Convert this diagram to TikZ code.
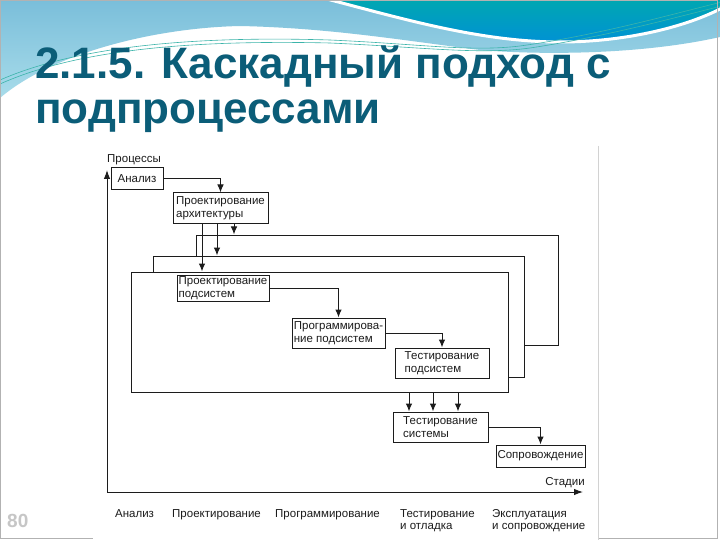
\documentclass[tikz,border=0pt]{standalone}
\usepackage{fontspec}
\setmainfont{Liberation Sans}
\usetikzlibrary{positioning}
\usetikzlibrary{arrows.meta}
\definecolor{titleteal}{RGB}{11,93,120}
\definecolor{skytop}{RGB}{122,190,218}
\definecolor{skylow}{RGB}{168,220,234}
\definecolor{seatop}{RGB}{0,168,176}
\definecolor{sealow}{RGB}{0,146,212}
\definecolor{waveline}{RGB}{60,180,170}
\definecolor{ink}{RGB}{28,28,28}
\tikzset{
    box/.style = {rectangle, draw=ink, line width=1pt, fill=white, align=left, inner sep=0.8pt, text=ink, font=\fontsize{11.5}{13}\selectfont},
    frame/.style = {rectangle, draw=ink, line width=1pt, fill=white, inner sep=0pt},
    stagetext/.style = {inner sep=0pt, align=left, text=ink, font=\fontsize{11.5}{12}\selectfont},
    titletext/.style = {inner sep=0pt, text=titleteal, font=\bfseries\fontsize{44}{45}\selectfont},
    edgen/.style = {-{Latex[length=8pt,width=6.5pt]}, line width=1pt, ink},
    edgea/.style = {-{Latex[length=9pt,width=6.5pt]}, line width=1pt, ink}, % axes
    wave/.style = {draw=waveline, line width=0.6pt},
}

\begin{document}
\begin{tikzpicture}[x=1pt,y=-1pt]
\useasboundingbox (0,0) rectangle (720,540);
\fill[white] (0,0) rectangle (720,540);
%
\begin{scope}
\clip (0,0) rectangle (720,540);
\shade[top color=skytop, bottom color=skylow] (0,0) -- (720,0) -- (720,37) .. controls (640,55) and (540,55) .. (480,50) .. controls (400,40) and (330,28) .. (240,26) .. controls (150,28) and (50,55) .. (0,98) -- cycle;
\shadedraw[top color=seatop, bottom color=sealow, draw=white, line width=3pt] (323,-2) .. controls (400,18) and (480,42) .. (560,42) .. controls (630,42) and (690,25) .. (722,8) -- (722,-2) -- cycle;
\draw[wave] (0,80) .. controls (80,45) and (200,36) .. (330,40) .. controls (420,44) and (470,52) .. (520,46) .. controls (600,35) and (680,12) .. (722,2);
\draw[wave] (0,84) .. controls (80,48) and (200,40) .. (330,43) .. controls (420,47) and (480,55) .. (530,48) .. controls (610,36) and (680,16) .. (722,6);
\end{scope}
\draw[gray!60, line width=0.6pt] (0.5,0.5) rectangle (717,538);
%
\node[titletext, anchor=base west] at (35,79) (t1) {2.1.5. Каскадный подход с};
\node[titletext, anchor=base west] at (35,124) (t2) {подпроцессами};
\node[anchor=base west, inner sep=0pt, text=gray!45, font=\bfseries\fontsize{19}{20}\selectfont] at (7,527) (pg) {80};
%
\fill[white] (93,146) rectangle (598,540);
\draw[gray!35] (598,146) -- (598,540);
%
\node[frame, minimum width=362, minimum height=110] at (377,290) (f1) {};
\node[frame, minimum width=371, minimum height=121] at (338.5,316.5) (f2) {};
\node[frame, minimum width=377, minimum height=120] at (319.5,332) (f3) {};
%
\node[box, minimum width=52, minimum height=22] at (137,179) (an) {Анализ};
\node[box, minimum width=95, minimum height=31] at (220.5,208.5) (arch) {Проектирование\\архитектуры};
\node[box, minimum width=92, minimum height=26] at (223,288) (ps) {Проектирование\\подсистем};
\node[box, minimum width=93, minimum height=30] at (338.5,333) (prog) {Программирова-\\ние подсистем};
\node[box, minimum width=94, minimum height=30] at (442,363) (tps) {Тестирование\\подсистем};
\node[box, minimum width=95, minimum height=30] at (440.5,427) (tsys) {Тестирование\\системы};
\node[box, minimum width=89, minimum height=22] at (540.5,456) (sop) {Сопровождение};
%
\draw[edgen] (an) -| (arch);
\draw[edgen] (ps) -| (prog);
\draw[edgen] (prog) -| (tps);
\draw[edgen] (tsys) -| (sop);
%
\coordinate (k1) at ([xshift=13.5pt]arch.south);
\coordinate (k2) at ([xshift=-3.5pt]arch.south);
\coordinate (k3) at ([xshift=-18.5pt]arch.south);
\draw[edgen] (k1) -- (k1 |- f1.north);
\draw[edgen] (k2) -- (k2 |- f2.north);
\draw[edgen] (k3) -- (k3 |- f3.north);
%
\foreach \dx [count=\i] in {-31.5,-7.5,17.5}{
  \coordinate (s\i) at ([xshift=\dx pt]tsys.north);
  \draw[edgen] (s\i |- f3.south) -- (s\i);
}
%
\coordinate (o) at (107,492);
\coordinate (ytop) at (107,170);
\coordinate (xend) at (583,492);
\draw[edgea] (o) -- (ytop);
\draw[edgea] (o) -- (xend);
\node[stagetext, anchor=base west] at (107,163) (ylab) {Процессы};
\node[stagetext, anchor=base east] at (585,485) (xlab) {Стадии};
%
\node[stagetext, anchor=base west] at (115,517) (st1) {Анализ};
\node[stagetext, anchor=base west] at (172,517) (st2) {Проектирование};
\node[stagetext, anchor=base west] at (275,517) (st3) {Программирование};
\node[stagetext, anchor=base west] at (400,529) (st4) {Тестирование\\и отладка};
\node[stagetext, anchor=base west] at (492,529) (st5) {Эксплуатация\\и сопровождение};

\end{tikzpicture}
\end{document}
